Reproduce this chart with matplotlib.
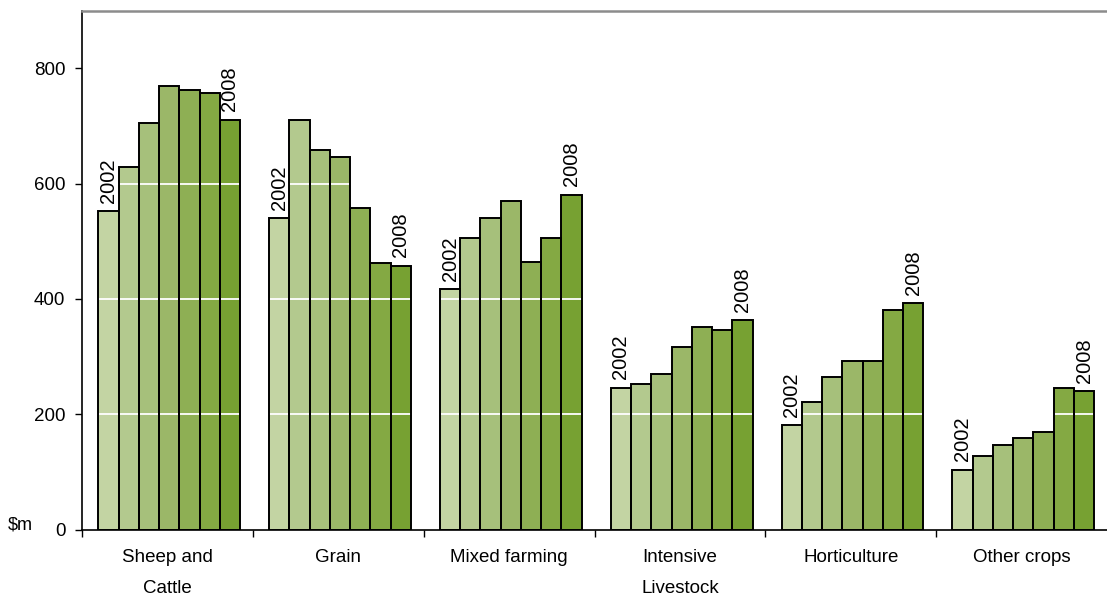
import matplotlib
matplotlib.use("Agg")
import matplotlib.pyplot as plt
import numpy as np

plt.rcParams['font.family'] = ['Liberation Sans', 'DejaVu Sans']

categories = ["Sheep and\nCattle", "Grain", "Mixed farming",
              "Intensive\nLivestock", "Horticulture", "Other crops"]
years = ["2002", "2003", "2004", "2005", "2006", "2007", "2008"]

# Gross value by industry, $m, one list per year
v2002 = [552, 540, 417, 246, 181, 104]
v2003 = [629, 711, 506, 252, 222, 128]
v2004 = [705, 658, 540, 270, 264, 146]
v2005 = [769, 646, 570, 316, 293, 158]
v2006 = [763, 558, 464, 352, 293, 169]
v2007 = [758, 463, 506, 346, 381, 245]
v2008 = [711, 458, 581, 363, 393, 240]
series = [v2002, v2003, v2004, v2005, v2006, v2007, v2008]

colors = ["#C3D4A3", "#B3C98E", "#A6C07B", "#9BB768", "#8EAF54", "#84A943", "#77A132"]

fig = plt.figure(figsize=(11.07, 5.98), dpi=100)
ax = fig.add_axes([0.0741, 0.1145, 0.9259, 0.982 - 0.1145])

x = np.arange(len(categories))
bw = 0.1186
offsets = (np.arange(len(years)) - 3) * bw + 0.01

for k, (vals, col) in enumerate(zip(series, colors)):
    # fill, then the white grid, then the black outline on top
    ax.bar(x + offsets[k], vals, width=bw, color=col, edgecolor="none", zorder=1)
    ax.bar(x + offsets[k], vals, width=bw, facecolor="none", edgecolor="black",
           linewidth=1.4, zorder=3)

for g in (200, 400, 600, 800):
    ax.axhline(g, color="white", linewidth=1.3, zorder=2)

# year markers over first and last bar of each group
for i in range(len(categories)):
    for k in (0, len(years) - 1):
        ax.annotate(years[k], (x[i] + offsets[k], series[k][i]),
                    xytext=(0, 6), textcoords="offset points",
                    rotation=90, ha="center", va="bottom", fontsize=14.5)

ax.set_xlim(-0.5, 5.5)
ax.set_ylim(0, 900)
ax.set_yticks([0, 200, 400, 600, 800])
ax.tick_params(axis="y", length=5, width=1, pad=7, labelsize=13.5)

ax.set_xticks(x)
ax.set_xticklabels(categories, fontsize=13.5, linespacing=2.05)
ax.set_xticks(np.arange(-0.5, 5.5, 1.0), minor=True)
ax.tick_params(axis="x", which="major", length=0, pad=14)
ax.tick_params(axis="x", which="minor", length=5, width=1)

ax.spines["right"].set_visible(False)
ax.spines["top"].set_color("#8C8C8C")
ax.spines["top"].set_linewidth(1.8)
ax.spines["left"].set_linewidth(1.2)
ax.spines["bottom"].set_linewidth(1.2)

fig.text(8 / 1107, 1 - 525 / 598, "$m", fontsize=13, ha="left", va="center")

fig.savefig("out.png", dpi=100)
